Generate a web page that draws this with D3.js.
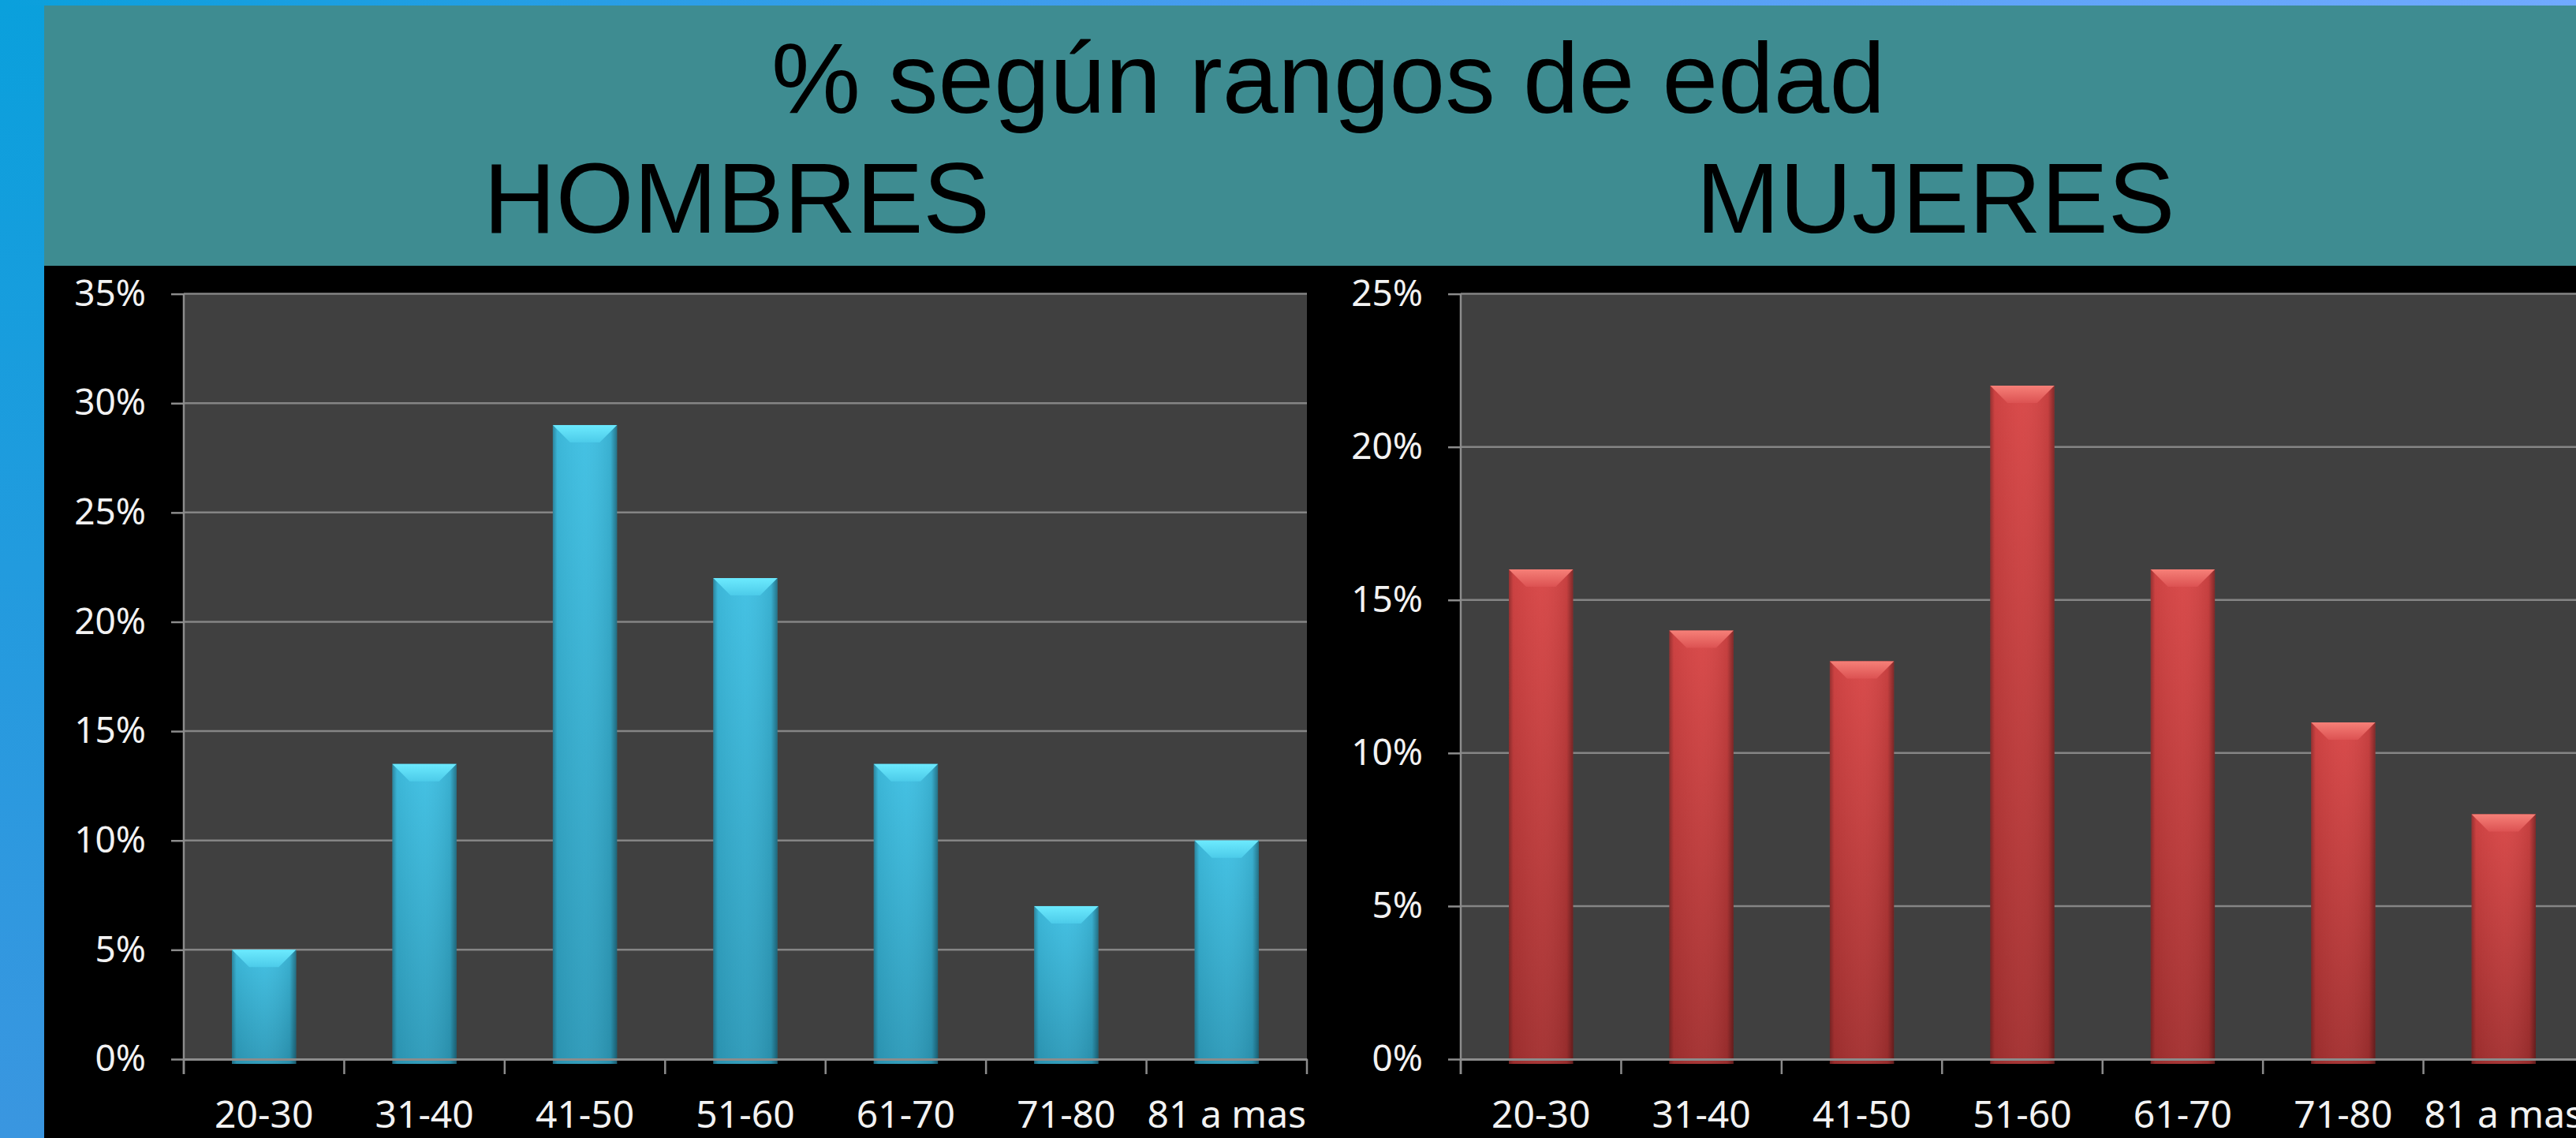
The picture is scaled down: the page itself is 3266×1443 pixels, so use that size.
<!DOCTYPE html>
<html>
<head>
<meta charset="utf-8">
<script src="https://cdn.jsdelivr.net/npm/d3@7"></script>
<style>
  html, body { margin: 0; padding: 0; background: #000; overflow: hidden; }
  svg { display: block; }
</style>
</head>
<body>
<svg id="chart" width="3266" height="1443"></svg>
<script>
// ---- data ----
const categories = ["20-30", "31-40", "41-50", "51-60", "61-70", "71-80", "81 a mas"];
const hombres = [5, 13.5, 29, 22, 13.5, 7, 10];
const mujeres = [16, 14, 13, 22, 16, 11, 8];
const hombresTicks = [0, 5, 10, 15, 20, 25, 30, 35];
const mujeresTicks = [0, 5, 10, 15, 20, 25];
const titleText = "% según rangos de edad";
const panelTitles = ["HOMBRES", "MUJERES"];

const W = 3266, H = 1443;
const svg = d3.select("#chart");
const defs = svg.append("defs");

// background gradients
const gLeft = defs.append("linearGradient").attr("id", "bgLeft").attr("x1", 0).attr("y1", 0).attr("x2", 0).attr("y2", 1);
gLeft.append("stop").attr("offset", 0).attr("stop-color", "#0aa0dc");
gLeft.append("stop").attr("offset", 1).attr("stop-color", "#3a96e0");
const gTop = defs.append("linearGradient").attr("id", "bgTop").attr("x1", 0).attr("y1", 0).attr("x2", 1).attr("y2", 0);
gTop.append("stop").attr("offset", 0).attr("stop-color", "#0aa0dc");
gTop.append("stop").attr("offset", 0.5).attr("stop-color", "#4a9cf0");
gTop.append("stop").attr("offset", 1).attr("stop-color", "#70aaff");

svg.append("rect").attr("x", 0).attr("y", 0).attr("width", W).attr("height", H).attr("fill", "url(#bgLeft)");
svg.append("rect").attr("x", 0).attr("y", 0).attr("width", W).attr("height", 7).attr("fill", "url(#bgTop)");
// header
svg.append("rect").attr("x", 56).attr("y", 7).attr("width", W - 56).attr("height", 330).attr("fill", "#3e8c91");
// chart black area
svg.append("rect").attr("x", 56).attr("y", 337).attr("width", W - 56).attr("height", H - 337).attr("fill", "#000000");

// header text
const headFont = "'Liberation Sans', Arial, sans-serif";
svg.append("text").attr("x", 1684).attr("y", 143).attr("text-anchor", "middle")
  .attr("font-family", headFont).attr("font-size", 127).attr("fill", "#000").text(titleText);
svg.append("text").attr("x", 934).attr("y", 295).attr("text-anchor", "middle")
  .attr("font-family", headFont).attr("font-size", 127).attr("fill", "#000").text(panelTitles[0]);
svg.append("text").attr("x", 2454).attr("y", 295).attr("text-anchor", "middle")
  .attr("font-family", headFont).attr("font-size", 127).attr("fill", "#000").text(panelTitles[1]);

// bar gradients
function barGradients(id, bodyTop, bodyBot, bevTop, bevBot) {
  const b = defs.append("linearGradient").attr("id", id + "Body").attr("x1", 0).attr("y1", 0).attr("x2", 0).attr("y2", 1);
  b.append("stop").attr("offset", 0).attr("stop-color", bodyTop);
  b.append("stop").attr("offset", 1).attr("stop-color", bodyBot);
  const v = defs.append("linearGradient").attr("id", id + "Bev").attr("x1", 0).attr("y1", 0).attr("x2", 0).attr("y2", 1);
  v.append("stop").attr("offset", 0).attr("stop-color", bevTop);
  v.append("stop").attr("offset", 1).attr("stop-color", bevBot);
}
barGradients("m", "#3fc0e3", "#2d9ab9", "#6ceafe", "#4ccbe9");
barGradients("w", "#d84646", "#a33030", "#f68078", "#dc5252");
const edge = defs.append("linearGradient").attr("id", "edge").attr("x1", 0).attr("y1", 0).attr("x2", 1).attr("y2", 0);
edge.append("stop").attr("offset", 0).attr("stop-color", "#000").attr("stop-opacity", 0.3);
edge.append("stop").attr("offset", 0.07).attr("stop-color", "#000").attr("stop-opacity", 0.05);
edge.append("stop").attr("offset", 0.5).attr("stop-color", "#fff").attr("stop-opacity", 0.03);
edge.append("stop").attr("offset", 0.9).attr("stop-color", "#000").attr("stop-opacity", 0.08);
edge.append("stop").attr("offset", 1).attr("stop-color", "#000").attr("stop-opacity", 0.4);

const labelFont = "'Noto Sans', 'Open Sans', sans-serif";
const plotTop = 372.6, plotBottom = 1343;

function panel(values, ticks, x0, x1, yMax, gid) {
  const g = svg.append("g");
  const x = d3.scaleBand().domain(categories).range([x0, x1]).paddingInner(0.6).paddingOuter(0.3);
  const y = d3.scaleLinear().domain([0, yMax]).range([plotBottom, plotTop]);

  // plot area
  g.append("rect").attr("x", x0).attr("y", y(yMax)).attr("width", x1 - x0).attr("height", y(0) - y(yMax)).attr("fill", "#404040");
  // gridlines
  g.selectAll(".grid").data(ticks.filter(t => t > 0)).join("line")
    .attr("x1", x0).attr("x2", x1).attr("y1", d => y(d)).attr("y2", d => y(d))
    .attr("stroke", "#858585").attr("stroke-width", 2.5);

  // bars
  const bars = g.selectAll(".bar").data(values).join("g");
  bars.append("rect")
    .attr("x", (d, i) => x(categories[i])).attr("y", d => y(d))
    .attr("width", x.bandwidth()).attr("height", d => y(0) - y(d) + 6)
    .attr("fill", `url(#${gid}Body)`);
  bars.append("rect")
    .attr("x", (d, i) => x(categories[i])).attr("y", d => y(d))
    .attr("width", x.bandwidth()).attr("height", d => y(0) - y(d) + 6)
    .attr("fill", "url(#edge)");
  const bev = 22;
  bars.append("path")
    .attr("d", (d, i) => {
      const bx = x(categories[i]), bw = x.bandwidth(), by = y(d);
      return `M${bx},${by}L${bx + bw},${by}L${bx + bw - bev},${by + bev}L${bx + bev},${by + bev}Z`;
    })
    .attr("fill", `url(#${gid}Bev)`);

  // y axis
  const ya = g.append("g").attr("transform", `translate(${x0},0)`)
    .call(d3.axisLeft(y).tickValues(ticks).tickFormat(d => d + "%").tickSize(16).tickPadding(32));
  ya.select(".domain").remove();
  ya.selectAll(".tick line").attr("stroke", "#8c8c8c").attr("stroke-width", 2.5);
  ya.selectAll("text").attr("fill", "#f2f2f2").attr("font-family", labelFont).attr("font-size", 46);
  g.append("line").attr("x1", x0).attr("x2", x0).attr("y1", y(yMax)).attr("y2", y(0) + 19)
    .attr("stroke", "#8c8c8c").attr("stroke-width", 2.5);

  // x axis
  const xa = g.append("g").attr("transform", `translate(0,${y(0)})`)
    .call(d3.axisBottom(x).tickSize(0).tickPadding(53));
  xa.select(".domain").attr("stroke", "#8c8c8c").attr("stroke-width", 3);
  xa.selectAll("text").attr("fill", "#f2f2f2").attr("font-family", labelFont).attr("font-size", 48);
  const bounds = d3.range(categories.length + 1).map(i => x0 + i * x.step());
  g.selectAll(".xtick").data(bounds).join("line")
    .attr("x1", d => d).attr("x2", d => d).attr("y1", y(0)).attr("y2", y(0) + 19)
    .attr("stroke", "#8c8c8c").attr("stroke-width", 2.5);
}

panel(hombres, hombresTicks, 233, 1657, 35, "m");
panel(mujeres, mujeresTicks, 1852, 3276, 25, "w");
</script>
</body>
</html>
